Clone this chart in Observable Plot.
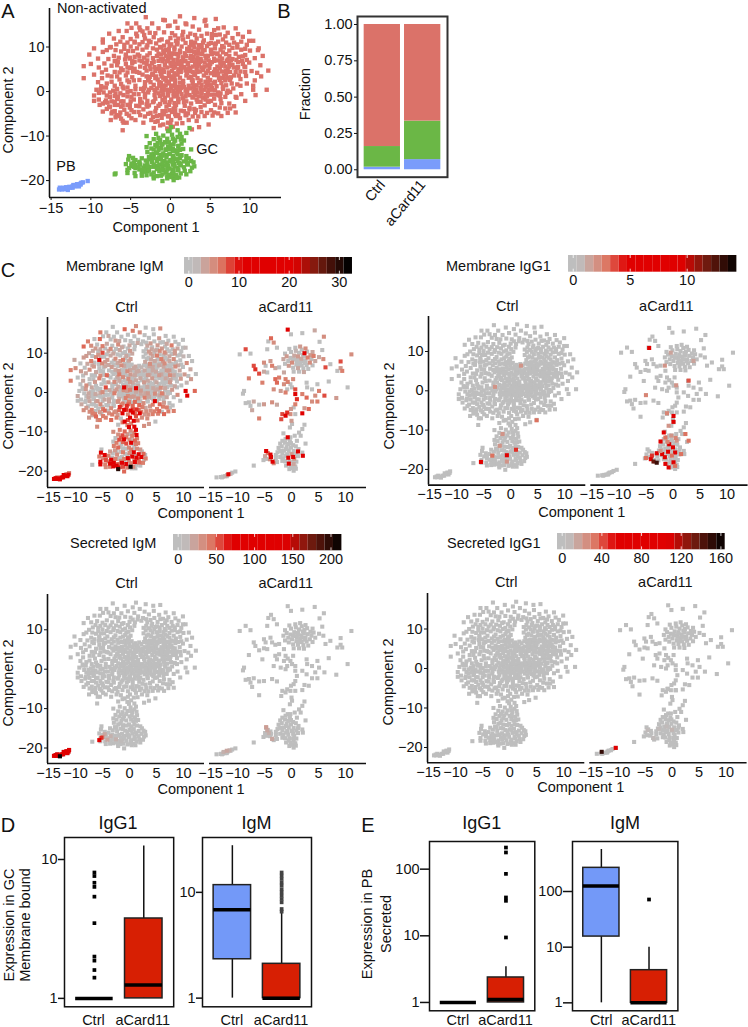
<!DOCTYPE html>
<html><head><meta charset="utf-8">
<script src="https://cdn.jsdelivr.net/npm/d3@7"></script>
<script src="https://cdn.jsdelivr.net/npm/@observablehq/plot@0.6"></script>
<style>
html,body{margin:0;padding:0;background:#fff}
#page{position:relative;width:748px;height:1027px;overflow:hidden;font-family:"Liberation Sans",Arial,sans-serif;color:#111}
.t{position:absolute;white-space:nowrap;line-height:1;transform:translate(-50%,-50%)}
</style></head><body><div id="page"></div>
<script>
// [x, y, membrane IgM expression (omitted = 0)]
const ctrlNon = [
[-3.1,16.7],[1.2,16.9,5],[3,16.5],[-.9,16.1,7],[-5.4,15.3,6],[-4.3,15.3],[-2.3,15.3],[.6,15.7,6],[1.9,15.3,5],[4.4,16.1],[5.7,16.3,5],[4.5,14.8],[6.7,14.4],[8.2,14.2],[9.9,13.4],[-5.5,13.6,7],[-6.5,13.6],[-1.5,14.2],[-.3,14.7],[.9,14.3],[2.8,14.6],[3.6,13.9],[5.5,13.8,4],[7.2,13.2],[-3.5,13.5],[-2.6,13.2,4],[-.8,13.3],[.2,13.1],[1.6,13.4],[2.5,13],[4.6,13],[6.2,12.8],
[-7.7,13,6],[-8.5,11.7,7],[-7.1,11.9,5],[-6,12.2],[-5,11.8,6],[-4.2,12.4,3],[-3.2,11.9],[-2.1,12.2,5],[-1.1,11.7],[0,12,3],[1,11.9],[2.2,12.3],[3.3,11.9,3],[4.2,11.5],[5.2,12,4],[6.6,11.7],[7.8,12,6],[9.1,12.3],[10.4,11.4,2],[-6.8,10.6,3],[-5.8,10.5],[-5,10.1,8],[-3.9,10.6,3],[-2.9,10.4],[-1.8,10.8,3],[-.8,10.3],[.1,10.6,4],[2.6,10.5],[3.6,10.4,4],[4.6,10.2],[5.6,10.6,5],[6.5,10.2,5],[7.4,10.5],[8.4,10.6,4],[9.6,10.5],
[-10.2,8.3,3],[-8.5,8.9,4],[-9.1,7.4],[-8,9.3,4],[-7.1,8,6],[-7.8,7.3,3],[-6.2,9,5],[-6.5,7.6],[-5.6,8.3,14],[-5.1,7.4,5],[-4.7,9.1],[-4.1,8.3,4],[-3.5,9.4,3],[-3.3,7.6],[-2.6,8.6,5],[-2.2,7.5,3],[-1.7,9.4],[-1.2,8.3,6],[-.6,9.3,3],[-.3,7.7],[.2,8.5,4],[.4,7.1],[2.6,9.1],[2.9,7.8,3],[3.5,8.8],[3.8,7.3,5],[4.3,9.3,3],[4.7,8,3],[5.1,9.4,6],[5.5,7.4],[5.9,8.5,6],[6.3,9.4],[6.5,7.4,5],[7,8.4],[7.4,9.2,3],[7.8,7.3],[8.2,8.5,5],[8.9,9.4],[9.4,8.2],[10,9.2,2],[11,9.3],[11.6,8],[10.6,7.5,5],[9.6,7.1],
[-10.9,5.7,6],[-10,6.2,5],[-9,5.4,4],[-8.3,6.3],[-8.1,4.9,3],[-7.4,5.8,5],[-7,4.4],[-6.6,6.6,4],[-6.2,5.2,3],[-5.6,6.2],[-5.4,4.3,5],[-4.9,5.4],[-4.5,6.7,3],[-4.2,4.4,7],[-3.8,5.6],[-3.3,6.5,4],[-3,4.7],[-2.6,5.8,3],[-2.1,6.7],[-1.9,4.6,6],[-1.4,5.7],[-1,6.8,3],[-.8,4.4],[-.4,5.4,5],[0,6.5],[.2,4.6,4],[.6,5.6],[1.1,6.6,3],[1.3,4.4],[1.7,5.5,3],[2.2,6.4,2],[2.4,4.6],[2.8,5.6,3],[3.2,6.7],[3.4,4.4,4],[3.9,5.4],[4.3,6.5,3],[4.5,4.2],[4.9,5.3,3],[5.2,6.6],[5.5,4.4,4],[5.9,5.6],[6.3,6.6,3],[6.5,4.5],[6.9,5.6,4],[7.4,6.4],[7.5,4.4,5],[8,5.4],[8.5,6.6,5],[8.8,4.5],[9.3,5.6,3],[9.9,6.5],[10.2,4.6,4],[11.3,5.9,3],[12.3,4.7],[10.9,4.2],
[-10.9,3,6],[-9.1,2.1],[-9.6,3.8],[-8.6,3,3],[-8,1.8,5],[-7.4,3.4],[-7,1.3,3],[-6.4,2.7,4],[-6,1.1],[-5.6,3.6,6],[-5.2,2.1],[-4.8,3.2],[-4.4,1.3,8],[-3.9,2.6,4],[-3.5,3.8],[-3.2,1.2],[-2.8,2.7,5],[-2.3,3.8],[-2.1,1.5,3],[-1.6,2.7],[-1.2,3.9,5],[-1,1.3,15],[-.5,2.4],[-.2,3.5,5],[.2,1.3,3],[.6,2.5,3],[.9,3.8],[1.2,1.1,14],[1.6,2.4],[2,3.6,3],[2.3,1.3],[2.7,2.6,4],[3.1,3.7],[3.3,1.4,3],[3.8,2.5],[4.2,3.6,4],[4.6,1.4],[5,2.6,3],[5.5,3.7],[5.8,1.2,5],[6.2,2.6],[6.7,3.6,3],[7,1.4],[7.5,2.6,4],[8,3.6],[8.4,1.6,3],[8.8,2.8],[9.5,3.5,4],[9.6,1.8],[10.6,2.5,2],[11.4,3.4,4],[10.4,.4,14],
[-9.3,.4],[-9.6,-.9,3],[-9,-1.8],[-8.4,-.2],[-8.1,.9,4],[-7.6,-1.2,3],[-7.2,.2],[-6.7,-1.7],[-6.3,-.4,3],[-5.9,.7],[-5.4,-1.1],[-5,.1,5],[-4.6,-1.8,3],[-4,-.6],[-3.7,.6,3],[-3.2,-1.3],[-2.8,-.2,6],[-2.4,.8,4],[-1.9,-1.6,3],[-1.5,-.4],[-1.1,.6,5],[-.7,-1.4,6],[-.3,-.2],[.1,.7,6],[.4,-1.1,4],[.9,-.1],[1.3,.8,4],[1.6,-1.5,5],[2.1,-.3,3],[2.5,.7],[2.8,-1.3,6],[3.4,-.2,4],[3.8,.7],[4.1,-1.4],[4.7,-.3,5],[5.2,.8,3],[5.5,-1.6],[6,-.2,6],[6.6,.6],[6.9,-1.2,3],[7.5,-.1],[7.9,.7,4],[8.2,-1.2],[8.8,1.3],[8.9,-.6,5],[10.7,-.8,14],[12.1,.4,7],[9.4,-2.1],
[-9.6,-2.1],[-8.9,-3,3],[-8.5,-4.5,5],[-8.2,-2.4],[-7.7,-3.5],[-7.4,-2.2,3],[-7,-4.4,6],[-6.6,-3],[-6.2,-2.2,3],[-5.8,-4.1],[-5.4,-3,5],[-5,-2.2],[-4.6,-4.6,7],[-4.3,-3.2],[-3.8,-2.3,3],[-3.4,-4,5],[-3,-2.9],[-2.5,-4.8,5],[-2.2,-2.4,4],[-1.8,-3.7,9],[-1.3,-2.8,6],[-1,-4.4,12],[-.5,-3.4,9],[-.1,-2.4,6],[.2,-4.6,14],[.6,-3.4,7],[1,-2.4,7],[1.3,-4.3,9],[1.8,-3.2,7],[2.2,-4.9,6],[2.6,-2.7,5],[3,-3.9,3],[3.4,-2.3],[3.9,-4.6,5],[4.3,-3.1,6],[4.7,-2.2,12],[5.1,-4.2,6],[5.6,-3,7],[6,-4.9],[6.4,-2.6,4],[6.9,-3.8,6],[7.4,-2.7],[8.2,-4.7,6],[8,-3.3],[6.4,-5.5,7],
[-7.5,-6.4,4],[-6.8,-5.3,6],[-6.2,-6.1,7],[-6,-8.7,5],[-5.5,-7,6],[-5.2,-5.4],[-4.4,-6.4,6],[-3.8,-5.3,5],[-3.4,-7,7],[-2.2,-5.7,4],[-1.6,-6.6],[-1.3,-5.3,14],[-.9,-7.4,16],[-.3,-5.6,6],[.1,-6.4,14],[.6,-5.1,15],[.8,-7.2,15],[1.2,-6,8],[1.9,-5.3,13],[2.3,-6.4,5],[2.8,-5.6,4],[3.3,-6.6,5],[3.6,-8,4],[4.8,-7.4],[2.7,-8.5,5],[4.3,-5.5,6],[5.3,-5.4,6],[-2.1,-8.2],[-1.3,-7.6,6],[-.4,-8.3,6],
[-.9,.2],[-.2,1.8],[.5,3.2],[1.2,2],[1.9,.3],[2.6,3.3],[3.2,.5],[3.6,2],[4.3,.4],[4.4,2.2],[5.1,1.4],[5.6,2.2],[6.4,1.9],[6.1,3.1],[6.9,2.5],[7.2,3.1],[-1.7,.7],[-2.5,2.1],[-3.4,.1],[-.6,3],[1,5],[2,5],[3.3,5.1],[4.1,4.8],[4.7,5.9],[5.6,5],[6.2,5.2],[7.2,5.1],[7.8,6],[.5,4.1],[2.1,4.1],[3,4.1],[6,4],[7,3.9],[5.1,4.1],[1.4,6],[3.6,6.1],[4.8,7],[6,7],[7.1,6.9],[3.3,7.1],[-.7,6],[-1.6,5.1],[-2.5,5],[-2.6,3.3],[-1.8,3.4],[-3.9,4.2],[-4.7,4.5],[-3.2,2.1],[-1.2,2],[-.1,.1],[.8,1],[1.7,1],[2.9,1],[-.9,-.7],[.4,-.4],[1.4,-.6],[2.4,-.8],[3.1,-.8],[3.9,-.5],[5.1,-.7],[6.2,-.9],[7.1,-.3],[-2,-.8],[-3.2,-.6],[-4.6,-.6],[-1,-1.9],[.1,-1.8],[1,-1.6],[2,-2.2],[3.3,-1.8],[4.4,-1.8],[5.1,-2.1],[6.3,-1.7],[-.7,-2.4],[.5,-2.6],[1.7,-2.4],[-2.9,-3.4],[-3.9,-3.3],[-5.1,-3.6],[-6.2,-3.4],[-7,-3],[-8,-.9],[-6.9,-.4],[-5.9,-.8],[-6.7,.6],[-5.4,.9],[-8.7,1.2],[-7.4,2.2],[-6.2,1.7],[-4.6,2.5],[-5.4,5.4],[-6.7,3.4],[-6.4,4.3],[-8.6,4.3],[-4.8,6.4],[-5.7,7.2],[-2.9,7],[-.9,7.3],[5.2,8.4],[6.6,8.8],
[-4.9,14.3],[-3.9,14.4,3],[-2.9,14.2],[-1.9,13.1,3],[.6,12.6],[1.5,12.6,3],[3.1,12.7],[3.9,12.5,4],[5.7,12.7],[6.9,12.4,3],[8.5,12.9],[-6.3,11.2,4],[-5.4,11,3],[-4.5,11.2],[-3.5,11.1,5],[-2.5,11.1],[-1.4,11.5,3],[-.3,11.2],[.9,11],[3.1,11],[4.1,11,3],[5.1,10.9],[6,11.2,4],[7,11],[8,11],[8.9,11.2,3],[9.9,11.4],
[-7.5,10,3],[-6.9,9.3],[-5.8,9.6,4],[-5.3,9.1],[-4.2,9.7],[-3,9.9,3],[-2.2,9.7],[-1.3,10],[-.2,9.5],[.5,9.9,3],[3,9.9],[3.9,9.9,4],[4.8,10.7,3],[5.6,9.7],[6.7,9.9,3],[7.8,9.8],[8.4,9.9,4],[9.4,9.6],
[-6.9,6.9,3],[-5.6,7.9],[-4.5,7.8,4],[-3.9,7,3],[-2.9,8.1],[-1.7,8,4],[-.8,8.7],[-.1,8.1,3],[3.2,8.5],[4,8.4,3],[5.4,8.6],[6.2,7.9,4],[7.4,8,3],[8.6,7.8],[9,6.9,3],[8.3,7.1],[-1.5,6.9,5],[-.3,6.9],[.8,6.2,3],[1.8,6.8],[2.7,6.9],[3.7,6.7,3],[4.5,7.4],[5.5,6.9,3],[6.7,6.4],[7.6,7],[1.3,5.3,3],[2.5,5.3],[3.4,5.7],[4.3,5.6,3],[5,6.2],[6.4,5.8],[7.4,5.6,4],[8.4,5.3],[.1,5.7,3],[-.9,5],[-2,5.5,4],[-3.2,5.3],[-2.2,4,3],[-1.3,4.6],[-.2,4.3],[1,4.4,3],[1.9,4.7],[2.8,4.4],[3.7,4.5,3],[4.7,4.6],[5.9,4.6,3],[7,4.6],[8.2,4.4,3],[9.4,4.4],
[-1.9,3,3],[-.9,3.1],[.1,2.7,4],[1.2,3.1,3],[2.3,3.1],[3.4,3,3],[4.7,3.1],[5.9,3.7],[6.5,3],[7.6,3.2,3],[8.6,3.6],[-1.4,1.3],[-.6,1.4,4],[.6,1.7],[1.6,1.6,3],[2.8,1.9],[3.9,1.5],[4.4,1.1,3],[5.4,1.9],[6.6,1.1,3],[7.7,1.8],[-.4,.4,4],[.4,.2],[1.2,.2,3],[2.1,.5,4],[3,.2],[3.9,-.1],[4.8,.5,3],[5.6,.3],[6.3,-.4,3],[7.2,.2],[-2.7,.4,3],[-1.9,.1],[-1.3,-1],[-.3,-.9,5],[.8,-1,4],[1.9,-1.1],[2.9,-.2,3],[3.6,-1.1,3],[4.6,-1.1],[5.6,-.7,3],[-4.4,.5],[-5.4,-.1,3],[-6.6,-1.2],[-7.6,-.2,3],[-8.6,.9],[-8.1,-2],[-7,-1],[-5.9,-2.2,4],[-4.9,-1.2],[-3.8,-1.7,3],[-2.9,-2.1],[-2.1,-2.2,5],
[-8,-3.9,4],[-7.4,-4.9,5],[-6.9,-5.8,3],[-6.3,-4.7],[-5.5,-5,4],[-6.4,-5.5,6],[-5.9,-7,5],[-4.9,-4.2,6],[-4,-4.6],[-4.9,-6,6],[-3.2,-5.6,6],[-2.8,-5,5],[-2.4,-6.4,6],[-1.9,-4.5,7],[-1.5,-3.2,6],[-.6,-4.4,9],[-.2,-3,7],[.6,-4.3,8],[1,-5.3,7],[1.7,-4.4,7],[2.4,-3.7,6],[3.1,-4.8,5],[3.5,-5.6,5],[3.8,-3.5,4],[4.6,-4.8,6],[5.5,-4.7,7],[6.2,-3.6,6],[7.2,-4.8,6],[7.5,-3.8],[1.5,-7.1,7],[-.3,-7,8],[.3,-7.9,6]
];
const ctrlGC = [
[-.1,-8.8,14],[.9,-8.7,15],[-1.8,-9.5,6],[-.9,-9.9,7],[.2,-9.7,5],[1.2,-9.5,16],[-2.1,-10.7,5],[-1.3,-10.9,8],[-.4,-10.6,4],[.5,-11,6],[1.3,-10.8,14],[-2.6,-11.6],[-1.9,-12,8],[-1,-11.9,16],[0,-12,5],[1,-12.2,7],[-2.4,-12.8,6],[-1.5,-13.1],[-.6,-13,8],[.3,-12.8,14],[1.2,-13.1,6],[-2.1,-14,7],[-1.2,-14.2],[-.1,-14,5],[.9,-14.1],[-2.7,-14.7,4],
[-5.2,-14.5],[-5.3,-15.3,14],[-4.6,-15.9,15],[-5.6,-16.3,6],[-4.9,-16.7,5],[-3.9,-16.1,6],[-3.1,-15.5],[-2.3,-15.8,5],[-1.6,-15.1],[-.8,-15.6],[0,-15.4,5],[.8,-15.2,14],[1.7,-15.7,15],[2.6,-15.6,7],[-5.4,-17.6,16],[-4.4,-17.2,8],[-3.4,-17.1,14],[-2.6,-16.9,6],[-1.9,-16.7],[-1,-16.9,6],[-.3,-16.7,16],[.5,-16.3,18],[1.3,-16.6,15],[2.2,-16.4,14],[3,-16.8,6],[-5.4,-18.3,14],[-4.5,-18.3,6],[-3.6,-18.1,16],[-2.9,-17.9,15],[-2.1,-18.2,7],[-1.4,-17.9,16],[-.6,-18.2,18],[.3,-18,6],[1,-17.7,15],[1.8,-17.8,7],[2.5,-17.9,6],[-3,-18.8,14],[-2.1,-19.1,16],[-1.2,-18.9,8],[-.4,-19.1,6],[.4,-19.3],[1.1,-19.3],[-1,-20.1,7],[-6.9,-18.4],[-2.1,-19.5,30],[.2,-18.9,32],
[-3,-10,5],[.3,-10.6],[.9,-10.2,6],[-1.6,-11.5,7],[-.6,-11.4,6],[.4,-11.8],[1.4,-11.7,6],[-3,-12.5],[-1.2,-12.6,7],[.7,-13.2],[1.6,-12.9,6],[-2.9,-13.6,6],[-1.7,-13.8],[-.5,-14.3],[.3,-14.5,6],[1.4,-14.3,5],[2,-14.5,4],[-3.6,-15,4],[-2.4,-14.9],[-1.2,-15.2,6],[.3,-15.5],[1.1,-16.1],[2.3,-15],[2.9,-15.9],[-4.4,-16.5,6],[-3.2,-16.6],[-2.1,-16.9],[-1.4,-16.4],[-.4,-15.9],[-.1,-17.3,5],[.9,-17.2,6],[1.7,-17,7],[2.7,-17.1],[-3.9,-17.5,6],[-3,-17.3,6],[-2.4,-18.6,14],[-1.6,-17.4,5],[-.9,-17.6],[.2,-18.5],[1.3,-18.4],[2,-18.6],[-4.4,-19,5],[-3.6,-18.9,6],[-1.7,-19,6],[.7,-18.9,5]
];
const ctrlPB = [[-14,-22,14],[-13.6,-22,15],[-13.2,-21.9,14],[-12.9,-21.9,16],[-13.4,-21.6,6],[-12.6,-21.6,15],[-12.3,-21.6,13],[-12,-21.2,14],[-11.8,-21.1,7],[-11.5,-21.3,15],[-11.7,-20.8,6],[-11.3,-20.9,12],[-11.2,-20.5,5],[-12.9,-22.1,15],[-13.7,-21.8,14],[-12.2,-21,14]];
const aCardNon = [
[-.7,16,14],[-.1,14.8],[2,15.1],[4.3,15.8,3],[6,14.2,5],[5.2,12.9],[-3.8,13.8,7],[-4.3,13],[-3.3,12.7,5],[-4.5,11],[-2.7,11.4],[-8.5,11,8],[-9.6,9.7],[-7.6,9.9],[11.1,9.7,5],[5.7,10.8],[5.1,9,3],[5.9,8.5,5],[9.1,7.9,8],[7.2,7.2],[9.1,6.2,4],[9.4,5.5,6],[6.3,6.4,8],[8.5,5.5],[6.9,2.8],[10.4,1.3],[8.3,-1.4,4],[6.1,-.8,8],[4.8,2.1],[5.1,.4,6],[3.8,.8],[4.4,-.8,5],[3.8,-2.3,5],[4.8,-2.3,6],[2.8,2.5],[2.9,1.3],[2.8,-1.3,7],[.7,-.4,12],[.7,.8,8],[2,-.4,6],[.1,1.3],[.3,3.4,5],
[-7,6.8,8],[-6.7,5.9,9],[-6,4.8,8],[-7.9,3.6,6],[-5.4,2.5,6],[-5.1,7.6,5],[-4.8,6.8],[-3.9,8,4],[-3.6,6.8,6],[-3,6.2,3],[-2.3,6.4],[-4.5,5.1],[-5.1,5.3,3],[-3,3.4,7],[-2.3,3.8,6],[-1.4,5.1,3],[-1.1,3.4,6],[-2.7,2.5,7],[-1.4,2.1,5],[-3.3,.8,5],[-.8,.8],[-1.1,0,6],[-2,.4,4],[-.2,2.1],[-.7,2.7,6],
[-8.8,.4],[-9,-.3],[-5.1,-3,4],[-3.6,-2.5,5],[-2.7,-3.1,3],[-7.9,-2.5],[-8.5,-2.7],[-7,-2.3,3],[-6,-3.1],[-7.6,-3.4],[-7.3,-4.5,3],[-6,-6.6,6],[-1.7,-5.5,8],[-.8,-5.1,9],[-1.1,-5.9,12],[-.2,-5.5,5],[.7,-5.5],[2,-5.3,15],[.4,-3.8],[-.1,-4.2,4],[.7,-3,6],[1,-1.7,9],[3.2,-4.2,7],[2.4,-4,4],[-1.9,-6.8,8],[0,-7.2,4],
[1.8,8.6,3],[2.3,9.1],[1.2,9.2,4],[.8,8.4],[1.6,7.7],[2.6,8],[3,8.9,6],[2.4,10,14],[1.4,10.1],[.5,9.4,3],[-.2,8.8],[-.6,8],[-.9,9.2,4],[.1,7.6,5],[.9,7.1],[1.9,6.9],[2.8,7],[3.4,7.6,5],[3.7,8.5],[3.5,9.5,4],[2.9,10.4],[1.9,10.9],[.8,10.6,2],[-.1,10.3],[-.4,11.1],[.7,11.4],[1.6,11.7,4],[2.6,11.2,5],[3.9,10.3,3],[4.1,9.3,6],[4.4,8,3],[3.9,6.9],[3.1,6],[2.2,6.1],[1.2,6.2,3],[.3,6.3],[-.5,6.8,4],[-1.2,7.3],[-1.5,8.5,3],[-1.2,9.9],[.4,5.3],[1.4,5.3],[2.3,5.2,3],[1,8],[2,8],[.3,8.5],[1.2,8.8],[2.1,9.6],[1.4,6.9],[2.5,7.5]
];
const aCardGC = [[.1,-8],[-.3,-8.9],[2.4,-8.2],[2,-9.3],[1.4,-10.2],[1.7,-11],[.6,-11],[-1.5,-10.4],[-.7,-11.4,16],[-1.1,-11.8],[-.2,-11.4],[2.6,-13],[1,-12.3],[-.3,-12.4],[-1.2,-12.8],[-2.1,-13],[-.6,-13.1],[.3,-13.4],[-1.8,-13.7],[-.9,-13.9],[-.1,-14],[-2.4,-14.1],[-1.4,-14.8],[-.5,-14.8],[.4,-14.9],[1.2,-15,14],[-2.6,-15.2],[-1.7,-15.6],[-.8,-15.7],[0,-15.7,4],[.9,-15.6],[2,-15.3],[-4.7,-14.9,15],[-4.4,-15.4,6],[-3.9,-15.8,15],[-4.9,-16.2,3],[-3.8,-16.4,14],[-3.5,-17.6,14],[-3.3,-18,5],[-2.7,-17.7],[-5.2,-17.2],[-2.1,-16.4],[-1.5,-16.7],[-.6,-16.6,14],[.3,-16.4,14],[.5,-16.8,5],[2.1,-16.1,15],[-1.2,-17.5],[-.4,-17.5],[.3,-17.6],[-.5,-18.1,14],[.4,-18.2,3],[-1,-18.6],[-.2,-18.7],[.7,-18.8],[.1,-19.2],[.8,-19.4],[-.4,-19.5],[.4,-19.9],[-7,-18.6],
[-2.1,-14.9],[-1,-14.4],[.2,-15.6],[1.2,-16.2],[-2.9,-15.9],[-2.9,-16.7],[-1,-16.1],[-1.7,-17.4],[.9,-17.6],[1.3,-14.4],[-.1,-12.9],[.8,-13.7],[-1.7,-12.3],[-4,-17,5],[-4.6,-16.9]];
const aCardPB = [[-13.9,-21.6],[-13.1,-21.5],[-12.7,-21.4],[-12.3,-21.3,2],[-11.9,-21,3],[-11.7,-20.8,14],[-11.3,-20.7,2],[-11,-20.4],[-10.4,-20.1],[-12,-21.3],[-12.9,-21.6]];

// Highlighted cells in the panels that are otherwise grey: [x, y, expression]
const memIgG1Ctrl = [[-5.5,-18.1,8],[-3.4,-16.5,3],[-.7,-16.4,6],[1,-15,4],[-2,-14,2],[-1.5,-11,2],[4.8,-7.5,3],[-2.9,1,2],[1.9,6.4,2],[-.7,-18,2]];
const memIgG1ACard = [[-4.4,10.9,7],[2.9,2.6,3.5],[-5,-1.1,2.5],[.6,1.4,2],[-.4,9.7,1.5],[-1.5,6.4,2],[3.8,7.6,1.5],[-1.1,-5.7,2.5],[.1,-6.4,5.5],[.1,-7.9,6.5],[-.8,-8.9,2],[2.3,-11,3],[2.9,-12.7,3],[-1.7,-10.6,7],[-2.3,-12.9,8],[-1.4,-11.9,3],[-.7,-13.6,8],[0,-14.4,6],[.7,-12.7,2],[.4,-15.7,7],[-.9,-15.5,8],[-2,-16.1,5],[-3,-15.9,7],[-3.9,-16.5,4],[-5,-17.1,3],[-4.1,-17.4,8],[-3.6,-18,12],[-3,-18.3,13],[-1.5,-16.9,8],[-1.4,-18.6,8],[-.8,-19.5,7],[.1,-18.2,5],[.4,-19.1,3],[-.2,-16.5,3],[1.5,-16.1,3],[-2.3,-15.3,2],[-.3,-11.4,2],[.5,-12,2.5],[-1,-13,2.5]];
const secIgMCtrlPB = [110,125,105,130,90,120,100,140,120,110,95,130,85,212,115,125];
const secIgMCtrl = [[-5.6,-18,100],[-5.2,-17.4,60],[-5,-17.2,30],[-4.6,-16.5,20],[-3.5,-17,15],[-2.5,-17.8,15],[-1.5,-18.3,10],[0,-17,8],[-4.1,-17.9,20]];
const secIgMACard = [[-4.7,-14.7,25],[-4.5,-15.5,20],[-4.2,-16.2,15],[-3.6,-17.7,20],[-12.6,-21,15],[-12,-20.7,20],[-11.5,-20.6,15],[-13.1,-21.5,8]];
const secIgG1ACard = [[-10.4,-20.1,80],[-13,-21.1,150],[-2.4,-15.3,8],[-1,-14.7,8],[0,-15.5,10],[-1.2,-15.8,6],[-4.5,-15.6,8],[-3.4,-17.6,8],[.7,-5.5,6],[-.8,-5.2,5],[.4,-18.5,6]];

const boxBlue = "#7399f8", boxRed = "#d71f03";
const dIgG1Ctrl = {g:"Ctrl",lo:1,q1:1,med:1,q3:1,hi:1,fill:boxBlue};
const dIgG1ACard = {g:"aCard11",lo:1,q1:1,med:1.25,q3:3.76,hi:12.5,fill:boxRed};
const dIgG1Out = [8.06,7.6,6.8,6.35,5.4,3.48,2,1.87,1.6,1.41];
const dIgMCtrl = {g:"Ctrl",lo:1,q1:2.33,med:6.86,q3:11.7,hi:27.6,fill:boxBlue};
const dIgMACard = {g:"aCard11",lo:1,q1:1,med:1,q3:2.11,hi:6.34,fill:boxRed};
const dIgMOut = [15.4,14.4,13.4,12.4,11.6,10.7,10,9.3,8.65,8.05,6.96,6.57];
const eIgG1Ctrl = {g:"Ctrl",lo:1,q1:1,med:1,q3:1,hi:1,fill:boxBlue};
const eIgG1ACard = {g:"aCard11",lo:1,q1:1,med:1.11,q3:2.37,hi:3.43,fill:boxRed};
const eIgG1Out = [211,178,85,37.6,33.5,9.44];
const eIgMCtrl = {g:"Ctrl",lo:1,q1:15.5,med:126,q3:266,hi:568,fill:boxBlue};
const eIgMACard = {g:"aCard11",lo:1,q1:1,med:1,q3:3.86,hi:10,fill:boxRed};
const eIgMOut = [71.8];

// Panel B fractions
const fracGroups = ["Ctrl","aCard11"];
const fracPB = [.018,.07], fracGC = [.142,.265], fracNon = [.84,.665];

const RED="#db7269", GREEN="#6bb746", BLUE="#7a9cfb", GREY="#bebebe";
const FONT='"Liberation Sans",Arial,sans-serif';
const page=document.getElementById("page");
const minus=d3.format("d");
function put(svg,left,top){Object.assign(svg.style,{position:"absolute",left:left+"px",top:top+"px",background:"none",maxWidth:"none",overflow:"visible",fontFamily:FONT,fontSize:"14.5px"});page.appendChild(svg);}
function text(s,x,y,o={}){const d=document.createElement("div");d.className="t";d.textContent=s;d.style.left=x+"px";d.style.top=y+"px";d.style.fontSize=(o.size||14.5)+"px";if(o.rot)d.style.transform=`translate(-50%,-50%) rotate(${o.rot}deg)`;if(o.left)d.style.transform="translate(0,-50%)";page.appendChild(d);}
const rows=(a,f)=>a.map(([x,y,v=0])=>({x,y,v,f}));
function ramp(max){return {type:"linear",domain:[0,.04*max,.2*max,.33*max,.66*max,.8*max,max],range:[GREY,GREY,"#dc7a66","#e00000","#e00000","#7a1d10","#000"],interpolate:"rgb",clamp:true};}
const X_TICKS=[-15,-10,-5,0,5,10];

/* Panel A */
{
 const w=232,h=189,ml=40,mt=2,mb=24;
 const d=[...rows(ctrlNon,"n"),...rows(aCardNon,"n"),...rows(ctrlGC,"g"),...rows(aCardGC,"g"),...rows(ctrlPB,"p"),...rows(aCardPB,"p")];
 put(Plot.plot({width:w+ml+4,height:h+mt+mb,marginLeft:ml,marginRight:4,marginTop:mt,marginBottom:mb,
  x:{domain:[-15.2,13.96]},y:{domain:[-23.8,18.65]},
  color:{type:"ordinal",domain:["n","g","p"],range:[RED,GREEN,BLUE]},
  marks:[
   Plot.dot(d,{x:"x",y:"y",fill:"f",r:2.45,symbol:"square"}),
   Plot.axisX({ticks:X_TICKS,tickSize:3,tickPadding:2,label:null,tickFormat:minus}),
   Plot.axisY({ticks:[-20,-10,0,10],tickSize:3,tickPadding:2,label:null,tickFormat:minus}),
   Plot.ruleY([-23.8],{strokeWidth:1.6,stroke:"#111"}),Plot.ruleX([-15.2],{strokeWidth:1.6,stroke:"#111"})
  ]}),49-ml,8-mt);
 text("Non-activated",57,8,{left:1});text("GC",207,149);text("PB",66,166);
 text("Component 1",156,227);text("Component 2",8,110,{rot:-90});
}
/* Panel B */
{
 const ml=40,mt=2,mb=60;
 const d=[];fracGroups.forEach((g,i)=>{d.push({g,k:"p",v:fracPB[i]},{g,k:"g",v:fracGC[i]},{g,k:"n",v:fracNon[i]});});
 put(Plot.plot({width:90+ml+2,height:160.7+mt+mb,marginLeft:ml,marginRight:2,marginTop:mt,marginBottom:mb,
  x:{type:"band",domain:fracGroups,paddingInner:.1,paddingOuter:.165,round:false},y:{domain:[-.051,1.055]},
  color:{type:"ordinal",domain:["n","g","p"],range:[RED,GREEN,BLUE]},
  marks:[
   Plot.barY(d,{x:"g",y:"v",fill:"k",order:["p","g","n"]}),
   Plot.frame({stroke:"#333",strokeWidth:2}),
   Plot.axisY({ticks:[0,.25,.5,.75,1],tickSize:3,tickPadding:2,label:null,tickFormat:d3.format(".2f")}),
   Plot.axisX({tickRotate:-50,tickSize:0,tickPadding:5,label:null})
  ]}),357.3-ml,16-mt);
 text("Fraction",305,94,{rot:-90});
}
/* Legends */
function legend(o){
 const w=o.right-o.left,h=o.bottom-o.top,d0=(o.left-o.zero)/o.unit,d1=(o.right-o.zero)/o.unit;
 const n=20,st=(d1-d0)/n,bins=d3.range(n).map(i=>({a:d0+i*st,b:d0+(i+1)*st,v:Math.max(0,d0+(i+.5)*st)}));
 put(Plot.plot({width:w+24,height:h+24,marginLeft:12,marginRight:12,marginTop:0,marginBottom:24,
  x:{domain:[d0,d1]},y:{domain:[0,1],axis:null},color:ramp(o.max),
  marks:[
   Plot.rect(bins,{x1:"a",x2:"b",y1:0,y2:1,fill:"v"}),
   Plot.ruleX(o.ticks,{y1:0,y2:.18,stroke:"#fff",strokeWidth:.8}),Plot.ruleX(o.ticks,{y1:.82,y2:1,stroke:"#fff",strokeWidth:.8}),
   Plot.axisX({ticks:o.ticks,tickSize:0,tickPadding:3,label:null,tickFormat:d=>d})
  ]}),o.left-12,o.top);
 text(o.title,o.tx,o.ty,{left:1});
}
legend({title:"Membrane IgM",tx:66,ty:266,left:183.7,right:351.7,top:257,bottom:273.7,zero:188,unit:5.02,ticks:[0,10,20,30],max:32});
legend({title:"Membrane IgG1",tx:446,ty:266,left:568.3,right:736.7,top:255,bottom:271.7,zero:573,unit:11.4,ticks:[0,5,10],max:14.4});
legend({title:"Secreted IgM",tx:70,ty:543,left:173.3,right:341.7,top:533.7,bottom:550,zero:178,unit:.764,ticks:[0,50,100,150,200],max:214});
legend({title:"Secreted IgG1",tx:447,ty:543,left:557.3,right:725,top:532.7,bottom:549,zero:562,unit:.992,ticks:[0,40,80,120,160],max:164});

/* Panel C facets */
const ctrlAll=[...ctrlNon,...ctrlGC,...ctrlPB], aCardAll=[...aCardNon,...aCardGC,...aCardPB];
function facets(o){
 const ml=40,mt=2,mb=22,W=o.right-o.left,H=o.bottom-o.top;
 const yMax=(o.y0-o.top)/o.yUnit,yMin=(o.y0-o.bottom)/o.yUnit;
 const base=o.base||[...rows(ctrlAll,"Ctrl").map(d=>({...d,v:0})),...rows(aCardAll,"aCard11").map(d=>({...d,v:0}))];
 const hi=o.hi||[];
 put(Plot.plot({width:W+ml+4,height:H+mt+mb,marginLeft:ml,marginRight:4,marginTop:mt,marginBottom:mb,
  fx:{domain:["Ctrl","aCard11"],paddingInner:5/162,paddingOuter:0,axis:null,round:false,label:null},
  x:{domain:[-15.2,13.9]},y:{domain:[yMin,yMax]},color:ramp(o.max),
  marks:[
   Plot.dot(base,{x:"x",y:"y",fx:"f",fill:"v",r:2.3,symbol:"square"}),
   Plot.dot(hi,{x:"x",y:"y",fx:"f",fill:"v",r:2.3,symbol:"square"}),
   Plot.ruleY([yMin],{strokeWidth:1.6,stroke:"#111"}),
   Plot.ruleX([-15.2],{fx:()=>"Ctrl",strokeWidth:1.6,stroke:"#111"}),
   Plot.axisX({ticks:X_TICKS,tickSize:0,tickPadding:4,label:null,tickFormat:minus}),
   Plot.axisY({ticks:[-20,-10,0,10],tickSize:3,tickPadding:2,label:null,tickFormat:minus})
  ]}),o.left-ml,o.top-mt);
 const c1=o.left+79.5,c2=o.left+238.7;
 text("Ctrl",c1,o.labY);text("aCard11",c2,o.labY);
 text("Component 1",o.left+154,o.xLabY);text("Component 2",o.left-39,o.yLabY,{rot:-90});
}
const hl=(a,f)=>a.map(([x,y,v])=>({x,y,v,f}));
facets({left:47,right:366,top:317,bottom:487,y0:392,yUnit:3.93,max:32,labY:307,xLabY:513,yLabY:406,
 base:[...rows(ctrlAll,"Ctrl"),...rows(aCardAll,"aCard11")].sort((a,b)=>a.v-b.v)});
facets({left:427.7,right:747.3,top:315.7,bottom:484.3,y0:390,yUnit:3.93,max:14.4,labY:306,xLabY:512,yLabY:406,
 hi:[...hl(memIgG1Ctrl,"Ctrl"),...hl(memIgG1ACard,"aCard11")]});
facets({left:47,right:366,top:594,bottom:763,y0:668.7,yUnit:3.94,max:214,labY:583,xLabY:789,yLabY:683,
 hi:[...hl(secIgMCtrl,"Ctrl"),...hl(secIgMACard,"aCard11"),...ctrlPB.map(([x,y],i)=>({x,y,v:secIgMCtrlPB[i],f:"Ctrl"}))].sort((a,b)=>a.v-b.v)});
facets({left:426.7,right:746.3,top:592.7,bottom:762,y0:667.7,yUnit:3.95,max:164,labY:582,xLabY:787,yLabY:682,
 hi:hl(secIgG1ACard,"aCard11")});

/* Panels D, E */
function box(o){
 const ml=40,mt=2,W=o.right-o.left,H=o.bottom-o.top,mb=1027-o.bottom;
 const stats=o.stats,open=stats.filter(d=>d.q3>d.q1);
 put(Plot.plot({width:W+ml+4,height:H+mt+mb,marginLeft:ml,marginRight:4,marginTop:mt,marginBottom:mb,
  x:{type:"band",axis:null,domain:["Ctrl","aCard11"],paddingInner:.24,paddingOuter:.226,round:false},
  y:{type:"log",domain:o.domain},color:{type:"identity"},
  marks:[
   Plot.ruleX(stats,{x:"g",y1:"lo",y2:"hi",stroke:"#111",strokeWidth:1.5}),
   Plot.barY(open,{x:"g",y1:"q1",y2:"q3",fill:"fill",stroke:"#222",strokeWidth:1.5}),
   Plot.tickY(stats,{x:"g",y:"med",stroke:"#000",strokeWidth:3.5}),
   Plot.dot(o.out,{x:()=>o.outG,y:d=>d,fill:o.outC||"#000",r:2.1,symbol:"square"}),
   Plot.frame({stroke:"#111",strokeWidth:1.5}),
   Plot.axisY({ticks:o.ticks,tickSize:o.ts||6,tickPadding:1,label:null,tickFormat:d=>d,strokeWidth:1.5})
  ]}),o.left-ml,o.top-mt);
 const step=W/(2-.24+2*.226), c1=o.left+step*(.226+.38), c2=c1+step;
 text("Ctrl",c1,o.labY);text("aCard11",c2,o.labY);
 text(o.title,(o.left+o.right)/2,823,{size:18});
}
box({title:"IgG1",left:63.5,right:172.7,top:836.7,bottom:1006,domain:[.87,14.4],ticks:[1,10],stats:[dIgG1Ctrl,dIgG1ACard],out:dIgG1Out,outG:"Ctrl",labY:1020});
box({title:"IgM",left:202,right:311,top:836.7,bottom:1006,domain:[.828,33],ticks:[1,10],stats:[dIgMCtrl,dIgMACard],out:dIgMOut,outG:"aCard11",outC:"#444",labY:1020});
box({title:"IgG1",left:429,right:534.3,top:840.7,bottom:1010,domain:[.75,260],ticks:[1,10,100],stats:[eIgG1Ctrl,eIgG1ACard],out:eIgG1Out,outG:"aCard11",ts:9,labY:1019.5});
box({title:"IgM",left:572.3,right:677.7,top:840.7,bottom:1010,domain:[.72,791],ticks:[1,10,100],stats:[eIgMCtrl,eIgMACard],out:eIgMOut,outG:"aCard11",ts:9,labY:1019.5});
text("Expression in GC",9,925,{rot:-90});text("Membrane bound",25,925,{rot:-90});
text("Expression in PB",367,924,{rot:-90});text("Secreted",386,924,{rot:-90});

/* Panel letters */
[["A",8,11],["B",284,11],["C",8,270],["D",8,825],["E",368,825]].forEach(([s,x,y])=>text(s,x,y,{size:20}));
</script></body></html>
